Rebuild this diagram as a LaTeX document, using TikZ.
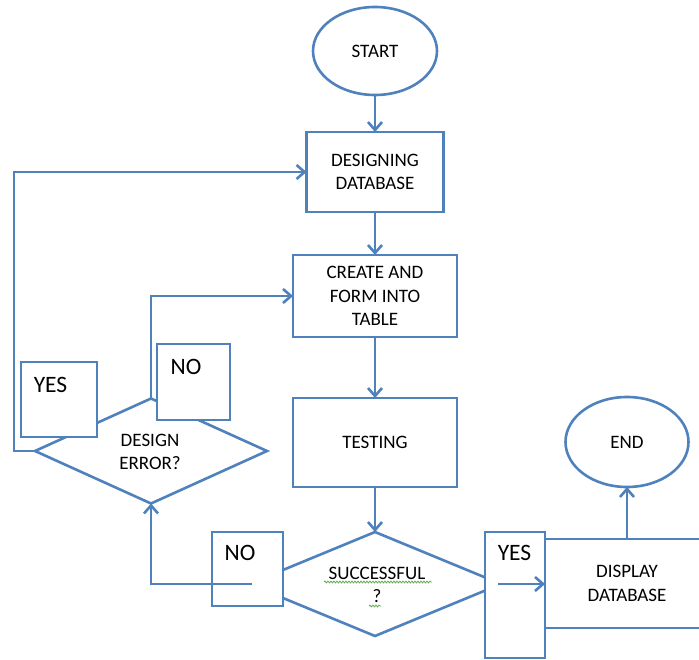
\documentclass[tikz,border=0pt]{standalone}
\usepackage{fontspec}
\setmainfont{Carlito}
\usetikzlibrary{shapes.geometric,arrows.meta,decorations.pathmorphing}
\definecolor{flow}{RGB}{79,129,189}
\definecolor{squig}{RGB}{100,170,80}
\begin{document}
\begin{tikzpicture}[x=1pt,y=-1pt,
  line width=2.6pt,
  every node/.style={inner sep=0pt, outer sep=0pt, font=\fontsize{19}{23.5}\selectfont, align=center, text=black},
  term/.style={ellipse, draw=flow, fill=white},
  procbox/.style={rectangle, draw=flow, fill=white},
  decide/.style={diamond, draw=flow, fill=white},
  tagbox/.style={rectangle, draw=flow, fill=white},
  tagtext/.style={font=\fontsize{23.5}{28}\selectfont},
  conn/.style={draw=flow, -{Straight Barb[length=8pt,width=14pt]}},
]
\clip (0,0) rectangle (699,660);
% terminals and processes
\node[term, minimum width=124pt, minimum height=88pt] (start) at (375,51) {START};
\node[procbox, minimum width=137pt, minimum height=80pt] (design) at (375,172) {DESIGNING\\DATABASE};
\node[procbox, minimum width=164pt, minimum height=82pt] (create) at (375,296) {CREATE AND\\FORM INTO\\TABLE};
\node[procbox, minimum width=164pt, minimum height=89pt] (test) at (375,442.5) {TESTING};
\node[procbox, minimum width=164pt, minimum height=89pt] (display) at (627,583.5) {DISPLAY\\DATABASE};
\node[term, minimum width=123pt, minimum height=90pt] (endn) at (627,442) {END};
% decisions
\node[decide, minimum width=252pt, minimum height=104pt] (succ) at (375,584) {};
\node (succt) at (377,585) {SUCCESSFUL\\?};
\node[decide, minimum width=232pt, minimum height=105pt] (derr) at (151,451) {};
\node (derrt) at (150,452) {DESIGN\\ERROR?};
% yes / no tag boxes
\node[tagbox, minimum width=71pt, minimum height=74pt] (nob) at (247.5,569) {};
\node[tagtext] (nobt) at (240,553) {NO};
\node[tagbox, minimum width=60pt, minimum height=126pt] (yesb) at (515,595) {};
\node[tagtext] (yesbt) at (514.5,553) {YES};
\node[tagbox, minimum width=73pt, minimum height=76pt] (notop) at (193.5,382) {};
\node[tagtext] (notopt) at (186,367) {NO};
\node[tagbox, minimum width=76pt, minimum height=75pt] (yestop) at (59,399.5) {};
\node[tagtext] (yestopt) at (50.5,385) {YES};
% spell-check squiggles
\draw[squig, line width=0.8pt, decorate, decoration={snake, amplitude=0.9pt, segment length=3pt}]
  (324,582) -- (432,582);
\draw[squig, line width=0.8pt, decorate, decoration={snake, amplitude=0.9pt, segment length=3pt}]
  (369,606) -- (381,606);
% connectors
\coordinate (noin) at (252,584);
\coordinate (yesin) at (498,584);
\draw[conn] (start.south) -- (design.north);
\draw[conn] (design.south) -- (create.north);
\draw[conn] (create.south) -- (test.north);
\draw[conn] (test.south) -- (succ.north);
\draw[conn] (display.north) -- (endn.south);
\draw[conn] (yesin) -- (yesin -| display.west);
\draw[conn] (noin) -| (derr.south);
\draw[conn] (derr.north) |- (create.west);
\draw[conn] (derr.west) -- ++(-21,0) |- (design.west);
\end{tikzpicture}
\end{document}
